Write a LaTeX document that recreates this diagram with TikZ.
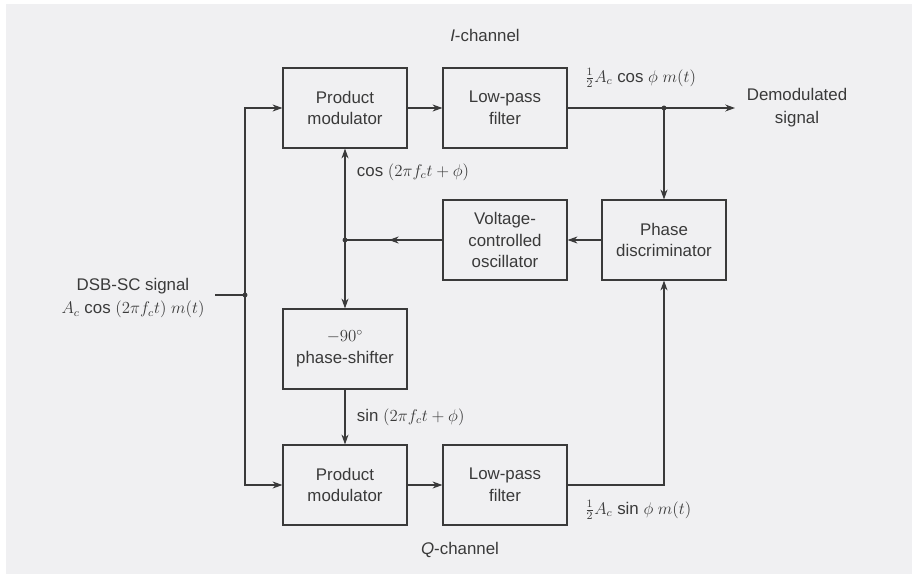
\documentclass[tikz,border=0pt]{standalone}
\usepackage{fontspec}
\setmainfont{Liberation Sans}
\usepackage{tikz}
\usetikzlibrary{arrows.meta, positioning, decorations.markings}
\definecolor{Paper_Grey}{HTML}{F0F0F2}
\definecolor{Ink_Grey}{HTML}{3A3A3A}

\begin{document}
\begin{tikzpicture}[x=0.025cm, y=-0.025cm,
    blk/.style={draw=Ink_Grey, thick, minimum width=3.1cm, minimum height=2cm, align=center, font=\fontsize{12}{15.5}\selectfont, text=Ink_Grey},
    sig/.style={thick, Ink_Grey, -{Stealth[length=7pt, width=5pt]}},
    wire/.style={thick, Ink_Grey},
    midarr/.style={thick, Ink_Grey, postaction={decorate}, decoration={markings, mark=at position 0.55 with {\arrow{Stealth[length=7pt, width=5pt]}}}},
    lbl/.style={font=\fontsize{12}{16.5}\selectfont, text=Ink_Grey},
    jdot/.style={circle, fill=Ink_Grey, inner sep=0pt, minimum size=3.5pt}]
    % Paper
    \useasboundingbox (0,0) rectangle (914,578);
    \fill[Paper_Grey] (6,4) rectangle (912,574);
    % Blocks
    \node[blk] (pmI) at (345,108) {Product\\modulator};
    \node[blk] (lpfI) at (505,108) {Low-pass\\filter};
    \node[blk] (vco) at (505,240) {Voltage-\\controlled\\oscillator};
    \node[blk] (pd) at (664,240) {Phase\\discriminator};
    \node[blk] (shift) at (345,349) {$-90^\circ$\\phase-shifter};
    \node[blk] (pmQ) at (345,485) {Product\\modulator};
    \node[blk] (lpfQ) at (505,485) {Low-pass\\filter};
    % Junctions and free ends
    \coordinate (in) at (215,295);
    \coordinate (jin) at (245,295);
    \coordinate (out) at (735,108);
    \coordinate (jout) at (pd.north |- lpfI.east);
    \coordinate (jvco) at (pmI.south |- vco.west);
    % Input split
    \draw[wire] (in) -- (jin);
    \draw[sig] (jin) |- (pmI.west);
    \draw[sig] (jin) |- (pmQ.west);
    % I-channel
    \draw[sig] (pmI) -- (lpfI);
    \draw[sig] (lpfI.east) -- (out);
    \draw[sig] (jout) -- (pd.north);
    % Loop
    \draw[sig] (pd.west) -- (vco.east);
    \draw[midarr] (vco.west) -- (jvco);
    \draw[sig] (jvco) -- (pmI.south);
    \draw[sig] (jvco) -- (shift.north);
    \draw[sig] (shift.south) -- (pmQ.north);
    % Q-channel
    \draw[sig] (pmQ) -- (lpfQ);
    \draw[sig] (lpfQ.east) -| (pd.south);
    \node[jdot] (d1) at (jin) {};
    \node[jdot] (d2) at (jvco) {};
    \node[jdot] (d3) at (jout) {};
    % Labels
    \node[lbl] (ich) at (485,35) {\textit{I}-channel};
    \node[lbl] (qch) at (460,550) {\textit{Q}-channel};
    \node[lbl, align=center] (dsb) at (133,298) {DSB-SC signal\\$A_c$ cos $(2\pi f_c t)\; m(t)$};
    \node[lbl, align=center] (demod) at (797,108) {Demodulated\\signal};
    \node[lbl, anchor=west] (icos) at (580,78) {$\frac{1}{2}A_c$ cos $\phi$ $m(t)$};
    \node[lbl, anchor=west] (qsin) at (580,510) {$\frac{1}{2}A_c$ sin $\phi$ $m(t)$};
    \node[lbl, anchor=west] (cosl) at (352,172) {cos $(2\pi f_c t + \phi)$};
    \node[lbl, anchor=west] (sinl) at (352,417) {sin $(2\pi f_c t + \phi)$};
\end{tikzpicture}
\end{document}
